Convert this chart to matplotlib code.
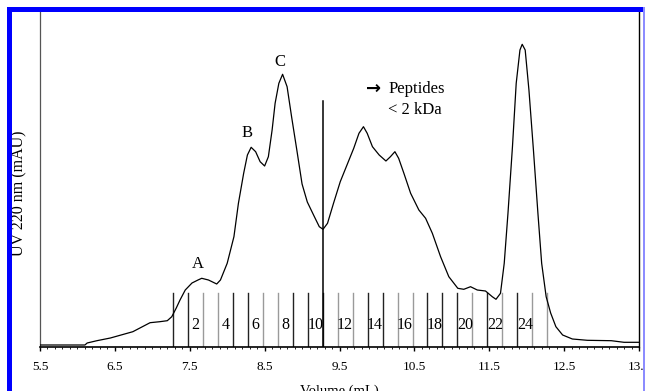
import matplotlib
matplotlib.use('Agg')
import matplotlib.pyplot as plt
from matplotlib.patches import Rectangle
from matplotlib.ticker import MultipleLocator

plt.rcParams['font.family'] = ['Liberation Serif', 'DejaVu Serif']

# UV trace (volume in mL, absorbance in arbitrary mAU)
volume = [5.5, 6.1, 6.13, 6.26, 6.44, 6.74, 6.97, 7.1, 7.2, 7.26, 7.32, 7.37, 7.44,
          7.53, 7.61, 7.66, 7.75, 7.86, 7.91, 8.0, 8.09, 8.15, 8.22, 8.27, 8.32,
          8.38, 8.44, 8.5, 8.55, 8.6, 8.64, 8.69, 8.74, 8.8, 8.86, 8.93, 9.0,
          9.07, 9.16, 9.23, 9.28, 9.34, 9.42, 9.51, 9.6, 9.69, 9.76, 9.82, 9.87,
          9.94, 10.03, 10.12, 10.18, 10.24, 10.29, 10.36, 10.45, 10.56, 10.65,
          10.74, 10.85, 10.96, 11.08, 11.16, 11.25, 11.34, 11.45, 11.54, 11.59,
          11.65, 11.7, 11.75, 11.81, 11.86, 11.91, 11.94, 11.98, 12.03, 12.09,
          12.15, 12.2, 12.26, 12.32, 12.39, 12.48, 12.61, 12.81, 13.13, 13.3, 13.5]
uv = [2, 2, 4, 6.3, 9, 15.3, 24.3, 25.3, 26.3, 30.3, 39, 47, 57,
      64, 67, 68.7, 67, 63, 67, 83.7, 110.3, 143.7, 173.7, 192, 199.7,
      195.3, 185.3, 181, 190.3, 217, 243.7, 263.7, 272.7, 260.3, 230.3, 197, 163,
      145, 131, 120.3, 117.7, 123.7, 143.7, 165.3, 182, 198.7, 213.7, 220.3, 213.7,
      200.3, 192, 186, 190.3, 195.3, 188.7, 173.7, 153.7, 137, 128.7,
      113.7, 90.3, 70.3, 58.7, 57.7, 60.3, 57, 56, 50.3, 47.7,
      53.7, 83.7, 133.7, 200.3, 263.7, 297, 302.7, 297, 257, 197,
      133.7, 83.7, 50.3, 34, 20.3, 12, 8, 6.7, 6.3, 4.7, 4.7]

# fraction collection boundaries (0.2 mL fractions) and which ones print dark
frac_start = 7.275
frac_width = 0.2
n_fractions = 25
frac_dark = [1, 1, 0, 0, 1, 1, 0, 0, 1, 1, 1, 0, 0, 1, 1, 0, 0, 1, 1, 1, 0, 1, 0, 1, 0, 0]
frac_labels = [str(n) for n in range(2, 25, 2)]
frac_line_height = 53.7

cut_volume = 9.275      # 2 kDa cut-off marker
cut_height = 246

peak_names = ['A', 'B', 'C']
peak_x = [7.61, 8.27, 8.71]
peak_y = [83, 213.7, 284.7]

fig = plt.figure(figsize=(6.45, 3.91), dpi=100)
ax = fig.add_axes([40 / 645, 44 / 391, 599 / 645, 335 / 391])

ax.plot(volume, uv, color='black', linewidth=0.9, zorder=3)

for k in range(n_fractions + 1):
    x = frac_start + k * frac_width
    col = '#222222' if frac_dark[k] else '#9a9a9a'
    ax.plot([x, x], [0, frac_line_height], color=col, linewidth=1.0, zorder=2)

for lab in frac_labels:
    n = int(lab)
    xc = frac_start + (n - 1) * frac_width + frac_width / 2
    ax.text(xc, 21.7, lab, ha='center', va='center', fontsize=11.5)

ax.plot([cut_volume, cut_volume], [0, cut_height], color='black', linewidth=1.1)

for name, x, y in zip(peak_names, peak_x, peak_y):
    ax.text(x, y, name, ha='center', va='center', fontsize=12)

ax.text(9.85, 258, '\u2192', ha='left', va='center', fontsize=13,
        family='DejaVu Sans', fontweight='bold')
ax.text(10.15, 257.7, 'Peptides', ha='left', va='center', fontsize=12)
ax.text(10.15, 237, '< 2 kDa', ha='left', va='center', fontsize=12)

ax.set_xlim(5.5, 13.5)
ax.set_ylim(0, 335)
ax.set_xticks([5.5 + i for i in range(9)])
ax.set_xticklabels(['5.5', '6.5', '7.5', '8.5', '9.5', '10.5', '11.5', '12.5', '13.5'])
ax.xaxis.set_minor_locator(MultipleLocator(0.1))
ax.tick_params(axis='x', which='major', direction='out', length=3, width=1,
               labelsize=9.5, pad=7)
ax.tick_params(axis='x', which='minor', direction='out', length=1.5, width=0.6)
ax.set_yticks([])

ax.spines['top'].set_visible(False)
ax.spines['left'].set_color('#555555')
ax.spines['left'].set_linewidth(0.9)
ax.spines['right'].set_linewidth(1.0)
ax.spines['bottom'].set_linewidth(1.2)

ax.set_xlabel('Volume (mL)', fontsize=10.5, labelpad=8.5)
fig.text(19.5 / 645, 1 - 193 / 391, 'UV 220 nm (mAU)', rotation=90,
         ha='center', va='center', fontsize=11.5)

# blue frame of the original figure panel
blue = '#0000ff'
fig.add_artist(Rectangle((7 / 645, 0), 5.3 / 645, 1 - 7 / 391, transform=fig.transFigure,
                         facecolor=blue, edgecolor='none', zorder=10))
fig.add_artist(Rectangle((7 / 645, 1 - 12.3 / 391), 1, 5.3 / 391, transform=fig.transFigure,
                         facecolor=blue, edgecolor='none', zorder=10))
fig.add_artist(Rectangle((643 / 645, 0), 2 / 645, 1 - 7 / 391, transform=fig.transFigure,
                         facecolor='#8c8cff', edgecolor='none', zorder=10))

fig.savefig('out.png', dpi=100)
